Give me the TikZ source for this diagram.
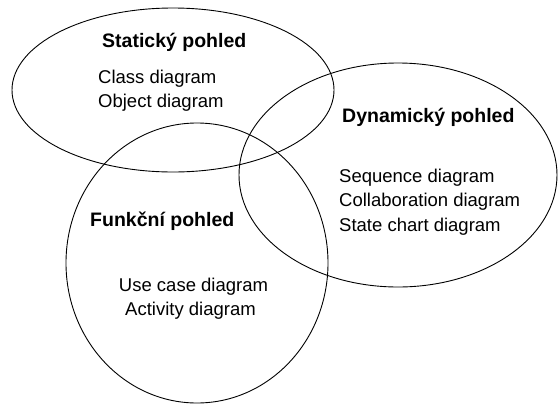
\documentclass[tikz,border=0pt]{standalone}
\usepackage{fontspec}
\setmainfont{Liberation Sans}
\begin{document}
\begin{tikzpicture}[x=1pt,y=-1pt,
  view/.style={draw=black,line width=0.9pt},
  head/.style={inner sep=0pt,anchor=base west,font=\fontsize{19.5}{22}\selectfont\bfseries},
  item/.style={inner sep=0pt,anchor=base west,font=\fontsize{18.5}{22}\selectfont}]
  \useasboundingbox (0,0) rectangle (560,405);
  % the three overlapping views
  \draw[view] (173,90) ellipse [x radius=161, y radius=82];
  \draw[view] (398,175) ellipse [x radius=159, y radius=112];
  \draw[view] (197,263) ellipse [x radius=131, y radius=140];
  % static view
  \node[head] (stat) at (102,47) {Statický pohled};
  \node[item] (class) at (98,83) {Class diagram};
  \node[item] (object) at (98,107) {Object diagram};
  % dynamic view
  \node[head] (dyn) at (342,122) {Dynamický pohled};
  \node[item] (seq) at (339,182) {Sequence diagram};
  \node[item] (coll) at (339,206.5) {Collaboration diagram};
  \node[item] (state) at (339,231) {State chart diagram};
  % functional view
  \node[head] (fun) at (90,226) {Funkční pohled};
  \node[item,anchor=base] (usecase) at (193.5,291) {Use case diagram};
  \node[item,anchor=base] (activity) at (190.5,315) {Activity diagram};
\end{tikzpicture}
\end{document}
